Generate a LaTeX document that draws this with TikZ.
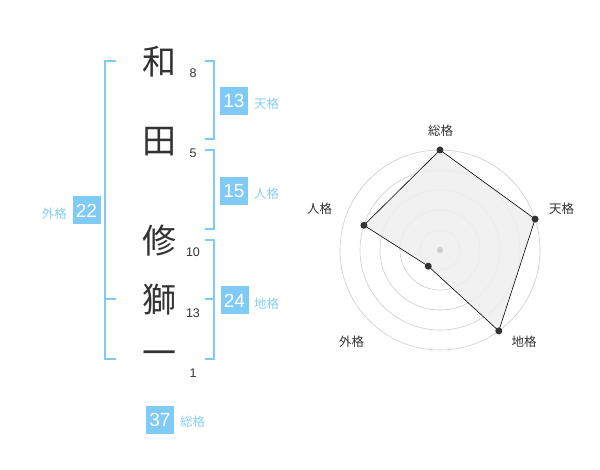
\documentclass[tikz,border=0pt]{standalone}
\usepackage{fontspec}
\setmainfont{Liberation Sans}
\newfontfamily\jp{Noto Sans CJK JP}
\definecolor{kblue}{HTML}{7FCBF6}
\definecolor{klab}{HTML}{86CDF4}
\definecolor{kdark}{HTML}{333333}
\definecolor{kgrid}{HTML}{CCCCCC}
\definecolor{kfill}{HTML}{EFEFEF}
\begin{document}
\begin{tikzpicture}[x=1pt,y=-1pt,
  kanji/.style={font=\jp\fontsize{34}{34}\selectfont,text=kdark,inner sep=0pt},
  stroke/.style={font=\fontsize{12.5}{12.5}\selectfont,text=kdark,inner sep=0pt},
  bracket/.style={draw=kblue,line width=2pt},
  numbox/.style={fill=kblue,text=white,minimum width=28pt,minimum height=28pt,inner sep=0pt,font=\fontsize{19}{19}\selectfont},
  kaku/.style={text=klab,inner sep=0pt,font=\jp\fontsize{12.5}{12.5}\selectfont,anchor=west},
  grid/.style={draw=kgrid,line width=0.6pt},
  radlab/.style={text=kdark,inner sep=0pt,font=\jp\fontsize{12.5}{12.5}\selectfont},
  pt/.style={circle,fill=kdark,inner sep=0pt,minimum size=7pt}]
\useasboundingbox (0,0) rectangle (600,470);
% characters
\node[kanji] (c1) at (159,62) {和};
\node[kanji] (c2) at (159,142) {田};
\node[kanji] (c3) at (159,241) {修};
\node[kanji] (c4) at (159,300) {獅};
\node[kanji] (c5) at (159,358) {一};
\node[stroke] (s1) at (193,73) {8};
\node[stroke] (s2) at (193,153) {5};
\node[stroke] (s3) at (193,252) {10};
\node[stroke] (s4) at (193,313) {13};
\node[stroke] (s5) at (193,373) {1};
% brackets
\draw[bracket] (116,61) -- (105,61) -- (105,359) -- (116,359);
\draw[bracket] (105,299) -- (116,299);
\draw[bracket] (205,61) -- (214,61) -- (214,139) -- (205,139);
\draw[bracket] (205,150) -- (214,150) -- (214,229) -- (205,229);
\draw[bracket] (205,240) -- (214,240) -- (214,359) -- (205,359);
\draw[bracket] (205,299) -- (214,299);
% boxes
\node[numbox] (ten) at (234,101) {13};
\node[kaku] (tenl) at (254,103.5) {天格};
\node[numbox] (jin) at (234,191) {15};
\node[kaku] (jinl) at (254,193.5) {人格};
\node[numbox] (chi) at (234.5,300.5) {24};
\node[kaku] (chil) at (254,303.5) {地格};
\node[numbox] (gai) at (86.5,210.5) {22};
\node[kaku,anchor=east] (gail) at (67,213.5) {外格};
\node[numbox] (sou) at (160,419.5) {37};
\node[kaku] (soul) at (180,422) {総格};
% radar
\begin{scope}[shift={(440,250)}]
\foreach \r in {20,40,60,80,100} \draw[grid] (0,0) circle (\r);
\coordinate (pS) at (90:-100);
\coordinate (pT) at (-18:100);
\coordinate (pC) at (54:100);
\coordinate (pG) at (126:20);
\coordinate (pJ) at (198:80);
\fill[kfill,opacity=0.85] (pS) -- (pT) -- (pC) -- (pG) -- (pJ) -- cycle;
\draw[black,line width=0.6pt] (pS) -- (pT) -- (pC) -- (pG) -- (pJ) -- cycle;
\node[circle,fill=kgrid,inner sep=0pt,minimum size=6pt] (ctr) at (0,0) {};
\foreach \p in {pS,pT,pC,pG,pJ} \node[pt] at (\p) {};
\node[radlab] (lS) at (0.7,-119.5) {総格};
\node[radlab] (lT) at (121.5,-41) {天格};
\node[radlab] (lC) at (84,91.5) {地格};
\node[radlab] (lG) at (-88.5,91.5) {外格};
\node[radlab] (lJ) at (-120.5,-41) {人格};
\end{scope}
\end{tikzpicture}
\end{document}
